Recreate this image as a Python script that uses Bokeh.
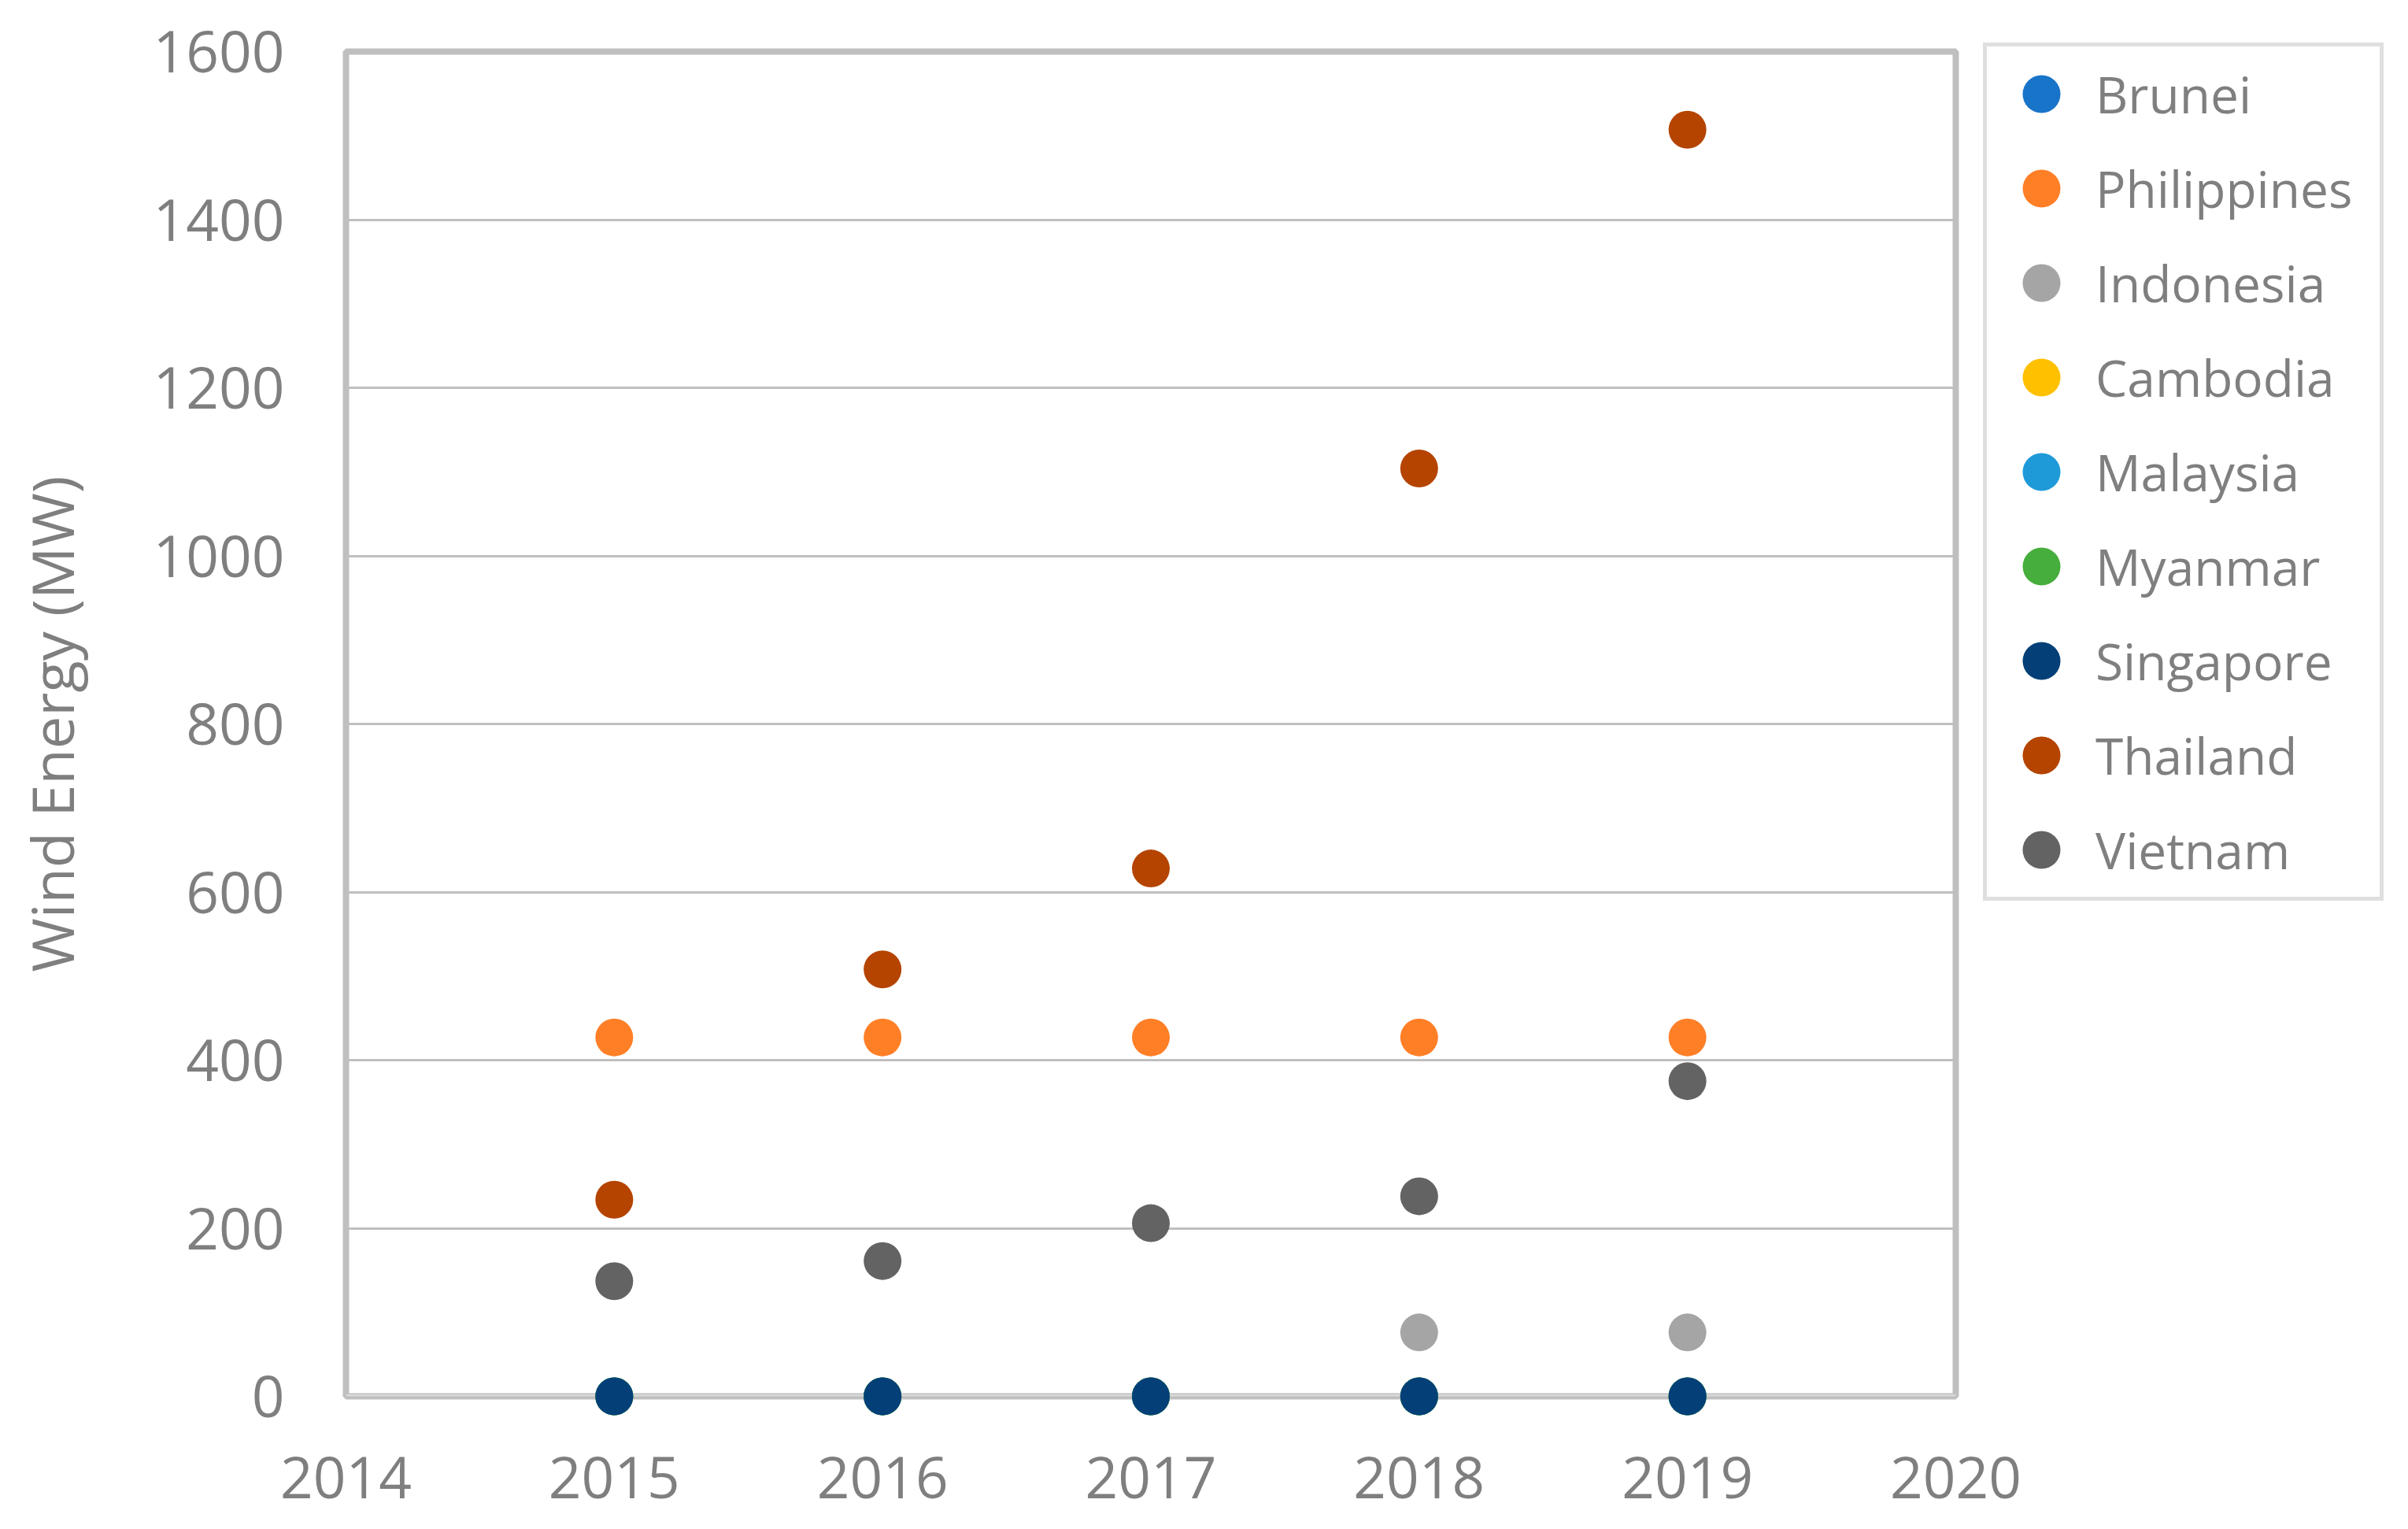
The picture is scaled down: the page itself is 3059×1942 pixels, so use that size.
from bokeh.plotting import figure
from bokeh.models import Legend, LegendItem, FixedTicker, Span, ColumnDataSource
from bokeh.embed import file_html
from bokeh.resources import INLINE

# ---- data ----
years = [2015, 2016, 2017, 2018, 2019]
brunei = [0, 0, 0, 0, 0]
philippines = [427, 427, 427, 427, 427]
indonesia = [0, 0, 0, 76, 76]
cambodia = [0, 0, 0, 0, 0]
malaysia = [0, 0, 0, 0, 0]
myanmar = [0, 0, 0, 0, 0]
singapore = [0, 0, 0, 0, 0]
thailand = [234, 508, 628, 1104, 1507]
vietnam = [137, 161, 206, 238, 375]

x_ticks = [2014, 2015, 2016, 2017, 2018, 2019, 2020]
y_ticks = [0, 200, 400, 600, 800, 1000, 1200, 1400, 1600]
y_label = "Wind Energy (MW)"

series = [
    ("Brunei", brunei, "#1874C8"),
    ("Philippines", philippines, "#FF7F27"),
    ("Indonesia", indonesia, "#A5A5A5"),
    ("Cambodia", cambodia, "#FFC000"),
    ("Malaysia", malaysia, "#1F9AD9"),
    ("Myanmar", myanmar, "#46AE3C"),
    ("Singapore", singapore, "#044077"),
    ("Thailand", thailand, "#B44400"),
    ("Vietnam", vietnam, "#636363"),
]

FONT = "Open Sans"
TEXT = "#7F7F7F"
GRID = "#BFBFBF"

p = figure(
    width=3048, height=1934,
    x_range=(2014, 2020), y_range=(0, 1600),
    output_backend="svg", toolbar_location=None,
    min_border_left=439, min_border_right=564,
    min_border_top=65, min_border_bottom=161,
)
p.frame_width = 2045
p.frame_height = 1708

p.outline_line_color = GRID
p.outline_line_width = 8

p.xgrid.visible = False
p.ygrid.grid_line_color = GRID
p.ygrid.grid_line_width = 3

p.xaxis.ticker = FixedTicker(ticks=x_ticks)
p.yaxis.ticker = FixedTicker(ticks=y_ticks)
for ax in (p.xaxis, p.yaxis):
    ax.axis_line_color = None
    ax.major_tick_line_color = None
    ax.minor_tick_line_color = None
    ax.major_label_text_font = FONT
    ax.major_label_text_font_size = "73px"
    ax.major_label_text_color = TEXT
p.xaxis.major_label_standoff = 70
p.yaxis.major_label_standoff = 72

p.yaxis.axis_label = y_label
p.yaxis.axis_label_text_font = FONT
p.yaxis.axis_label_text_font_size = "74px"
p.yaxis.axis_label_text_font_style = "normal"
p.yaxis.axis_label_text_color = TEXT
p.yaxis.axis_label_standoff = 76

base = Span(location=0, dimension="width", line_color="#D9D9D9", line_width=5)
p.add_layout(base)

items = []
for name, vals, color in series:
    src = ColumnDataSource(dict(x=years, y=vals))
    r = p.scatter("x", "y", source=src, size=48, fill_color=color, line_color=None,
                  level="overlay")
    items.append(LegendItem(label=name, renderers=[r]))

legend = Legend(items=items, location=(35, 629))
legend.label_text_font = FONT
legend.label_text_font_size = "64px"
legend.label_text_color = TEXT
legend.glyph_width = 138
legend.glyph_height = 120
legend.label_height = 120
legend.label_width = 361
legend.label_standoff = 0
legend.padding = 0
legend.spacing = 0
legend.margin = 0
legend.border_line_color = GRID
legend.border_line_width = 5
legend.background_fill_color = "white"
legend.background_fill_alpha = 1.0
p.add_layout(legend, "right")

open("out.html", "w").write(file_html(p, INLINE))
